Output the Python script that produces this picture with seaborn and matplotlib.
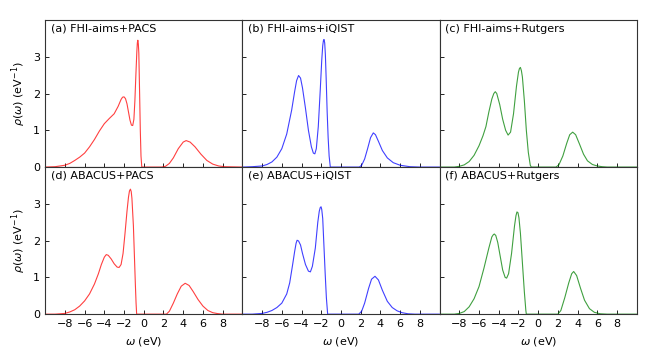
import matplotlib
matplotlib.use("Agg")
import matplotlib.pyplot as plt
import seaborn as sns

# spectral functions, omega in eV
w_a = [-10, -9, -8, -7.5, -7, -6.5, -6, -5.5, -5, -4.5, -4, -3.5, -3.0, -2.6, -2.3, -2.15, -2.0, -1.85, -1.7,
       -1.55, -1.4, -1.25, -1.12, -1.0, -0.9, -0.8, -0.7, -0.65, -0.6, -0.55, -0.5, -0.42, -0.35, -0.28, -0.2,
       0.5, 1.8, 2.2, 2.6, 3.0, 3.5, 4.0, 4.3, 4.7, 5.2, 5.8, 6.4, 7.0, 7.6, 8.2, 10]
rho_a = [0, 0.01, 0.05, 0.1, 0.18, 0.27, 0.38, 0.55, 0.75, 0.98, 1.18, 1.32, 1.45, 1.65, 1.84, 1.9, 1.91, 1.86, 1.72,
         1.5, 1.28, 1.14, 1.13, 1.3, 1.8, 2.5, 3.15, 3.38, 3.45, 3.35, 3.1, 2.0, 1.0, 0.3, 0.0,
         0, 0, 0.02, 0.1, 0.25, 0.5, 0.68, 0.72, 0.68, 0.55, 0.35, 0.18, 0.08, 0.03, 0.01, 0]

w_b = [-10, -9, -8, -7.5, -7, -6.5, -6, -5.5, -5.0, -4.7, -4.5, -4.3, -4.1, -3.9, -3.6, -3.3, -3.0, -2.8,
       -2.65, -2.5, -2.3, -2.1, -1.95, -1.85, -1.78, -1.72, -1.65, -1.58, -1.5, -1.4, -1.3, -1.2, -1.08, 1.86,
       2.1, 2.4, 2.7, 3.0, 3.28, 3.5, 3.8, 4.2, 4.7, 5.3, 6, 7, 8, 10]
rho_b = [0, 0.01, 0.03, 0.07, 0.14, 0.27, 0.5, 0.9, 1.55, 2.05, 2.35, 2.49, 2.42, 2.15, 1.6, 1.0, 0.55, 0.38,
         0.36, 0.5, 1.1, 2.1, 2.9, 3.3, 3.44, 3.47, 3.38, 3.05, 2.4, 1.5, 0.8, 0.3, 0, 0,
         0.05, 0.22, 0.5, 0.8, 0.93, 0.88, 0.7, 0.45, 0.25, 0.12, 0.05, 0.01, 0, 0]

w_c = [-10, -8.5, -8, -7.5, -7, -6.5, -6.0, -5.6, -5.3, -5.0, -4.7, -4.5, -4.35, -4.2, -3.9, -3.6, -3.3, -3.05,
       -2.8, -2.5, -2.2, -2.0, -1.9, -1.8, -1.7, -1.6, -1.4, -1.2, -1.0, -0.8, -0.7, 1.8,
       2.1, 2.5, 2.9, 3.2, 3.5, 3.8, 4.2, 4.6, 5.0, 5.5, 6, 6.5, 7, 10]
rho_c = [0, 0, 0.02, 0.06, 0.15, 0.32, 0.58, 0.85, 1.1, 1.5, 1.85, 2.0, 2.05, 2.0, 1.7, 1.3, 1.0, 0.87,
         0.95, 1.45, 2.2, 2.58, 2.68, 2.71, 2.62, 2.45, 1.8, 1.0, 0.4, 0.05, 0, 0,
         0.06, 0.3, 0.65, 0.88, 0.95, 0.88, 0.62, 0.35, 0.17, 0.07, 0.03, 0.01, 0, 0]

w_d = [-10, -9, -8, -7.5, -7, -6.5, -6, -5.5, -5, -4.6, -4.3, -4.0, -3.8, -3.6, -3.3, -3.0, -2.7, -2.5,
       -2.3, -2.1, -1.9, -1.7, -1.55, -1.45, -1.35, -1.27, -1.2, -1.05, -0.95, -0.85, -0.78, -0.72, 2.3,
       2.6, 3.0, 3.4, 3.8, 4.2, 4.6, 5.0, 5.5, 6.0, 6.5, 7.0, 7.5, 8.0, 10]
rho_d = [0, 0, 0.02, 0.06, 0.12, 0.22, 0.36, 0.55, 0.82, 1.1, 1.35, 1.55, 1.62, 1.6, 1.5, 1.37, 1.28, 1.27,
         1.35, 1.65, 2.2, 2.8, 3.18, 3.35, 3.4, 3.33, 3.15, 2.4, 1.6, 0.8, 0.3, 0, 0,
         0.08, 0.3, 0.55, 0.76, 0.84, 0.78, 0.62, 0.4, 0.22, 0.1, 0.04, 0.015, 0, 0]

w_e = [-10, -9, -8, -7.5, -7, -6.5, -6, -5.5, -5.2, -4.9, -4.7, -4.55, -4.45, -4.3, -4.1, -3.9, -3.6, -3.3,
       -3.1, -2.9, -2.6, -2.35, -2.2, -2.1, -2.02, -1.95, -1.85, -1.75, -1.6, -1.48, -1.35, 1.8,
       2.1, 2.4, 2.8, 3.1, 3.45, 3.8, 4.2, 4.7, 5.2, 5.7, 6.2, 6.8, 7.5, 10]
rho_e = [0, 0, 0.02, 0.05, 0.1, 0.18, 0.3, 0.55, 0.85, 1.35, 1.7, 1.93, 2.01, 1.99, 1.88, 1.65, 1.35, 1.17,
         1.15, 1.3, 1.8, 2.5, 2.8, 2.9, 2.92, 2.85, 2.6, 2.0, 1.1, 0.45, 0, 0,
         0.08, 0.3, 0.7, 0.95, 1.03, 0.93, 0.65, 0.35, 0.18, 0.09, 0.04, 0.01, 0, 0]

w_f = [-10, -8.5, -8, -7.5, -7, -6.5, -6, -5.5, -5.0, -4.7, -4.55, -4.45, -4.3, -4.1, -3.9, -3.6, -3.35,
       -3.2, -3.0, -2.7, -2.4, -2.25, -2.15, -2.05, -1.95, -1.8, -1.6, -1.4, -1.25, -1.2, 2.0,
       2.3, 2.7, 3.1, 3.4, 3.6, 3.9, 4.3, 4.7, 5.2, 5.7, 6.3, 7, 10]
rho_f = [0, 0, 0.02, 0.07, 0.2, 0.42, 0.75, 1.25, 1.8, 2.1, 2.16, 2.18, 2.14, 1.95, 1.65, 1.2, 1.0,
         0.98, 1.1, 1.65, 2.4, 2.68, 2.78, 2.76, 2.62, 2.2, 1.4, 0.6, 0.1, 0, 0,
         0.1, 0.45, 0.85, 1.1, 1.16, 1.05, 0.7, 0.38, 0.15, 0.05, 0.01, 0, 0]

labels = ["(a) FHI-aims+PACS", "(b) FHI-aims+iQIST", "(c) FHI-aims+Rutgers",
          "(d) ABACUS+PACS", "(e) ABACUS+iQIST", "(f) ABACUS+Rutgers"]
omegas = [w_a, w_b, w_c, w_d, w_e, w_f]
rhos = [rho_a, rho_b, rho_c, rho_d, rho_e, rho_f]
colors = ["red", "blue", "green", "red", "blue", "green"]

sns.set_style("ticks")
plt.rcParams["font.family"] = ["DejaVu Sans"]
plt.rcParams["font.size"] = 8
plt.rcParams["mathtext.fontset"] = "dejavusans"
plt.rcParams["text.color"] = "black"
plt.rcParams["axes.labelcolor"] = "black"
plt.rcParams["xtick.color"] = "black"
plt.rcParams["ytick.color"] = "black"

fig, axes = plt.subplots(2, 3, figsize=(6.64, 3.57), dpi=100, sharex=True, sharey=True)
fig.subplots_adjust(left=0.068, right=0.959, top=0.944, bottom=0.12, wspace=0, hspace=0)

for i, ax in enumerate(axes.flat):
    sns.lineplot(x=omegas[i], y=rhos[i], ax=ax, color=colors[i], lw=0.8, alpha=0.75)
    ax.set_xlim(-10, 10)
    ax.set_ylim(0, 4)
    ax.set_xticks(range(-8, 9, 2))
    ax.set_yticks([0, 1, 2, 3])
    ax.tick_params(direction="in", length=3, width=0.6, labelsize=8, top=False, right=False)
    for s in ax.spines.values():
        s.set_linewidth(0.8)
        s.set_color("#333333")
    ax.text(0.03, 0.975, labels[i], transform=ax.transAxes, va="top", ha="left", fontsize=8)
    if i % 3 == 0:
        ax.set_ylabel(r"$\rho(\omega)$ (eV$^{-1}$)", fontsize=8)
    if i >= 3:
        ax.set_xlabel(r"$\omega$ (eV)", fontsize=8)

fig.savefig("out.png", dpi=100)
